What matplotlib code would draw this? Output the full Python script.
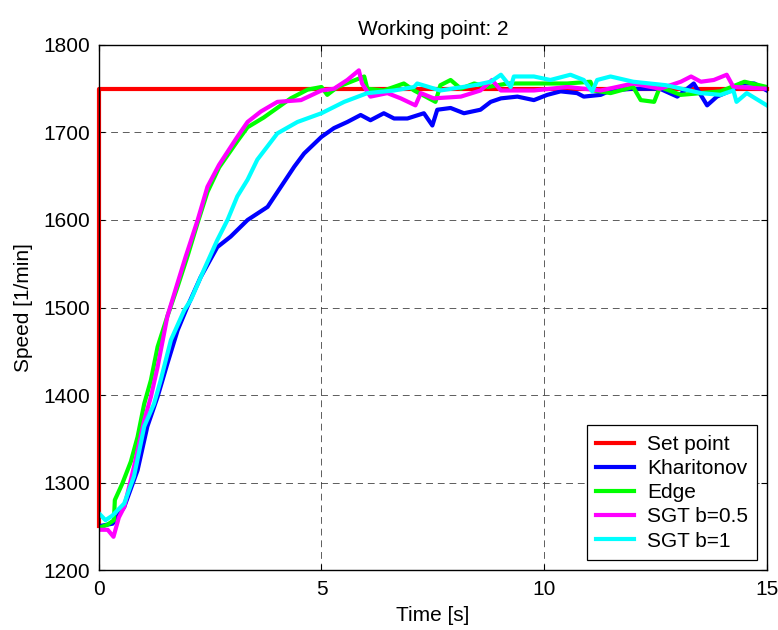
import matplotlib
matplotlib.use("Agg")
import matplotlib.pyplot as plt

plt.rcParams['font.family'] = ['Liberation Sans', 'DejaVu Sans']

# Set point
sp_t = [0, 0, 15]
sp_v = [1250, 1750, 1750]

# Kharitonov
kh_t = [0, 0.31, 0.57, 0.87, 1.09, 1.32, 1.54, 1.77, 1.99, 2.29, 2.66, 2.96, 3.34, 3.79, 4.09, 4.39,
        4.61, 5.0, 5.28, 5.58, 5.88, 6.1, 6.4, 6.63, 6.93, 7.3, 7.49, 7.6, 7.9, 8.2, 8.57, 8.8, 9.03,
        9.4, 9.77, 10.07, 10.37, 10.74, 10.89, 11.27, 11.49, 12.0, 12.6, 12.99, 13.36, 13.66, 13.88,
        14.2, 14.42, 14.72, 15.0]
kh_v = [1250, 1253, 1272, 1314, 1364, 1398, 1436, 1474, 1501, 1535, 1569, 1581, 1600, 1615, 1638, 1661,
        1676, 1695, 1705, 1712, 1720, 1714, 1722, 1716, 1716, 1722, 1708, 1726, 1728, 1722, 1726, 1735, 1739,
        1741, 1737, 1743, 1747, 1745, 1741, 1743, 1748, 1750, 1750, 1741, 1756, 1731, 1741,
        1748, 1756, 1756, 1748]

# Edge
ed_t = [0, 0.2, 0.34, 0.36, 0.53, 0.72, 0.87, 1.02, 1.17, 1.32, 1.54, 1.77, 2.0, 2.22, 2.44, 2.7,
        3.11, 3.34, 3.7, 4.31, 4.69, 5.0, 5.13, 5.36, 5.96, 6.03, 6.4, 6.85, 7.08, 7.56, 7.67, 7.9,
        8.13, 8.43, 8.73, 9.18, 9.77, 10.52, 11.04, 11.11, 11.49, 12.0, 12.17, 12.47, 12.6, 13.07,
        13.52, 13.96, 14.5, 15.0]
ed_v = [1248, 1252, 1257, 1280, 1299, 1324, 1352, 1390, 1417, 1455, 1490, 1524, 1560, 1597, 1632, 1660,
        1690, 1706, 1717, 1739, 1749, 1752, 1743, 1752, 1764, 1750, 1748, 1756, 1748, 1735, 1754, 1760,
        1750, 1756, 1752, 1756, 1756, 1756, 1758, 1748, 1745, 1752, 1737, 1735, 1752, 1743,
        1745, 1747, 1758, 1752]

# SGT b=0.5
s5_t = [0, 0.2, 0.33, 0.45, 0.57, 0.79, 1.02, 1.17, 1.32, 1.54, 1.75, 1.95, 2.22, 2.44, 2.7, 3.11,
        3.34, 3.64, 4.01, 4.54, 5.0, 5.28, 5.58, 5.84, 5.91, 6.1, 6.48, 6.78, 7.11, 7.23, 7.52, 8.13,
        8.57, 8.83, 9.03, 9.77, 10.52, 11.27, 12.0, 12.6, 13.07, 13.3, 13.52, 13.81, 14.1, 14.25, 15.0]
s5_v = [1246, 1246, 1238, 1260, 1272, 1318, 1371, 1398, 1432, 1490, 1525, 1558, 1600, 1638, 1663, 1695,
        1712, 1724, 1735, 1737, 1748, 1750, 1760, 1771, 1756, 1741, 1745, 1739, 1731, 1745, 1739, 1741,
        1748, 1760, 1748, 1748, 1752, 1748, 1756, 1750, 1758, 1764, 1758, 1760, 1766, 1752, 1750]

# SGT b=1
s1_t = [0, 0.15, 0.3, 0.57, 0.79, 1.02, 1.24, 1.39, 1.62, 1.92, 2.07, 2.36, 2.66, 2.89, 3.11, 3.34,
        3.56, 4.01, 4.46, 5.0, 5.51, 6.03, 6.63, 7.08, 7.15, 7.67, 8.43, 8.8, 9.03, 9.25, 9.32, 9.77,
        10.14, 10.59, 10.89, 11.08, 11.19, 11.49, 12.0, 12.74, 13.52, 13.96, 14.25, 14.32, 14.55, 15.0]
s1_v = [1265, 1257, 1262, 1276, 1307, 1364, 1390, 1417, 1463, 1497, 1509, 1543, 1577, 1600, 1627, 1646,
        1669, 1699, 1712, 1722, 1735, 1745, 1748, 1752, 1756, 1748, 1754, 1758, 1766, 1752, 1764, 1764,
        1760, 1766, 1760, 1747, 1760, 1764, 1758, 1754, 1745, 1743, 1748, 1735, 1745, 1731]

x_ticks = [0, 5, 10, 15]
y_ticks = [1200, 1300, 1400, 1500, 1600, 1700, 1800]

fs = 15
fig = plt.figure(figsize=(7.78, 6.30), dpi=100)
ax = fig.add_axes([0.127, 0.0952, 0.8586, 0.8334])

lw = 3.0
ax.plot(sp_t, sp_v, color='#ff0000', lw=lw, label='Set point', clip_on=False)
ax.plot(kh_t, kh_v, color='#0000ff', lw=lw, label='Kharitonov')
ax.plot(ed_t, ed_v, color='#00ff00', lw=lw, label='Edge')
ax.plot(s5_t, s5_v, color='#ff00ff', lw=lw, label='SGT b=0.5')
ax.plot(s1_t, s1_v, color='#00ffff', lw=lw, label='SGT b=1')

ax.set_xlim(0, 15)
ax.set_ylim(1200, 1800)
ax.set_xticks(x_ticks)
ax.set_yticks(y_ticks)
ax.tick_params(direction='in', labelsize=fs, top=True, right=True, length=4.5, width=0.8)
ax.tick_params(axis='x', pad=7)
ax.tick_params(axis='y', pad=6)
ax.grid(True, color='#333333', linestyle=(0, (7, 5)), linewidth=0.7, alpha=0.8)
for s in ax.spines.values():
    s.set_linewidth(1.0)

ax.set_title('Working point: 2', fontsize=fs, pad=7)
ax.set_xlabel('Time [s]', fontsize=fs, labelpad=5)
ax.set_ylabel('Speed [1/min]', fontsize=fs, labelpad=8)

leg = ax.legend(loc='lower right', fontsize=fs, fancybox=False, framealpha=1,
                edgecolor='black', borderpad=0.45, labelspacing=0.25, handlelength=1.8,
                handletextpad=0.65, borderaxespad=0, bbox_to_anchor=(0.986, 0.019))
leg.get_frame().set_linewidth(0.9)

fig.savefig('out.png', dpi=100)
